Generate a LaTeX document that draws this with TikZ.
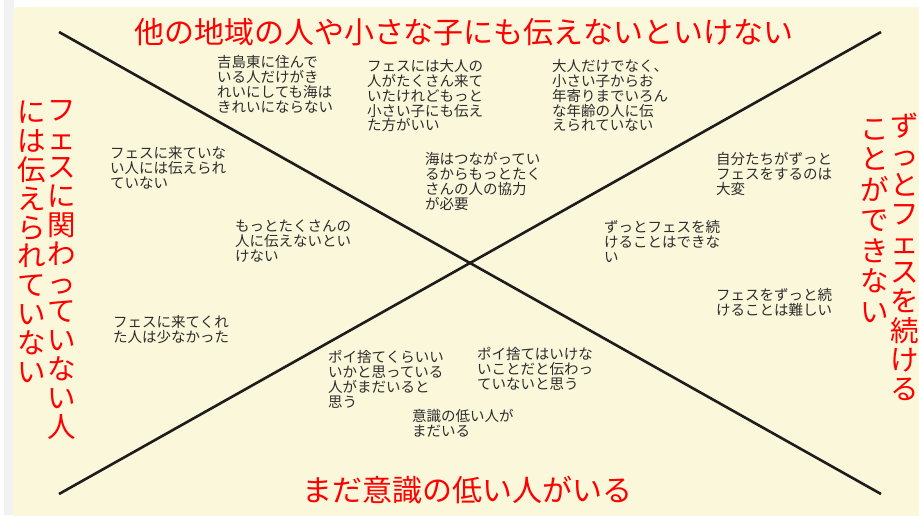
\documentclass[tikz,border=0pt]{standalone}
\usepackage{fontspec}
\setmainfont{Noto Sans CJK JP}
\definecolor{cream}{RGB}{251,247,219}
\definecolor{edgegray}{RGB}{242,242,242}
\definecolor{notegray}{RGB}{45,45,45}
\definecolor{linecol}{RGB}{30,28,28}
\definecolor{titlered}{RGB}{255,0,0}
\begin{document}
\begin{tikzpicture}[x=1pt,y=-1pt,
  note/.style={anchor=north west, align=left, inner sep=0pt, text=notegray,
    font=\fontsize{14.5}{14.9}\selectfont},
  titletext/.style={inner sep=0pt, text=titlered, font=\fontsize{30}{30}\selectfont},
  vtitle/.style={titletext, align=center, anchor=north, font=\fontsize{28.5}{28.8}\selectfont},
  diag/.style={draw=linecol, line width=2.6pt}]
\useasboundingbox (0,0) rectangle (919,515);
\fill[white] (0,0) rectangle (919,515);
\fill[edgegray] (4,0) rectangle (14,515);
\begin{scope}
\clip (0,0) rectangle (919,515);
\fill[cream, rounded corners=6pt] (13,7) rectangle (935,530);
\end{scope}

% diagonals
\coordinate (tl) at (59,32);
\coordinate (br) at (881,494);
\coordinate (bl) at (59,494);
\coordinate (tr) at (881,32);
\draw[diag] (tl) -- (br);
\draw[diag] (bl) -- (tr);

% titles
\node[titletext] (top) at (464,32) {他の地域の人や小さな子にも伝えないといけない};
\node[titletext] (bottom) at (467,490) {まだ意識の低い人がいる};
\node[vtitle] (leftA) at (62,100) {フ\\ェ\\ス\\に\\関\\わ\\っ\\て\\い\\な\\い\\人};
\node[vtitle] (leftB) at (32,101) {に\\は\\伝\\え\\ら\\れ\\て\\い\\な\\い};
\node[vtitle, font=\fontsize{28.5}{29.2}\selectfont] (rightA) at (905,113) {ず\\っ\\と\\フ\\ェ\\ス\\を\\続\\け\\る};
\node[vtitle, font=\fontsize{28.5}{30.5}\selectfont] (rightB) at (875,119) {こ\\と\\が\\で\\き\\な\\い};

% notes
\node[note] (n1) at (217,55) {吉島東に住んで\\いる人だけがき\\れいにしても海は\\きれいにならない};
\node[note] (n2) at (367,59) {フェスには大人の\\人がたくさん来て\\いたけれどもっと\\小さい子にも伝え\\た方がいい};
\node[note] (n3) at (552,59) {大人だけでなく、\\小さい子からお\\年寄りまでいろん\\な年齢の人に伝\\えられていない};
\node[note] (n4) at (425,152) {海はつながってい\\るからもっとたく\\さんの人の協力\\が必要};
\node[note] (n5) at (110,146) {フェスに来ていな\\い人には伝えられ\\ていない};
\node[note] (n6) at (235,220) {もっとたくさんの\\人に伝えないとい\\けない};
\node[note] (n7) at (716,152) {自分たちがずっと\\フェスをするのは\\大変};
\node[note] (n8) at (604,220) {ずっとフェスを続\\けることはできな\\い};
\node[note] (n9) at (716,288) {フェスをずっと続\\けることは難しい};
\node[note] (n10) at (113,315) {フェスに来てくれ\\た人は少なかった};
\node[note] (n11) at (328,350) {ポイ捨てくらいい\\いかと思っている\\人がまだいると\\思う};
\node[note] (n12) at (477,347) {ポイ捨てはいけな\\いことだと伝わっ\\ていないと思う};
\node[note] (n13) at (412,409) {意識の低い人が\\まだいる};
\end{tikzpicture}
\end{document}
